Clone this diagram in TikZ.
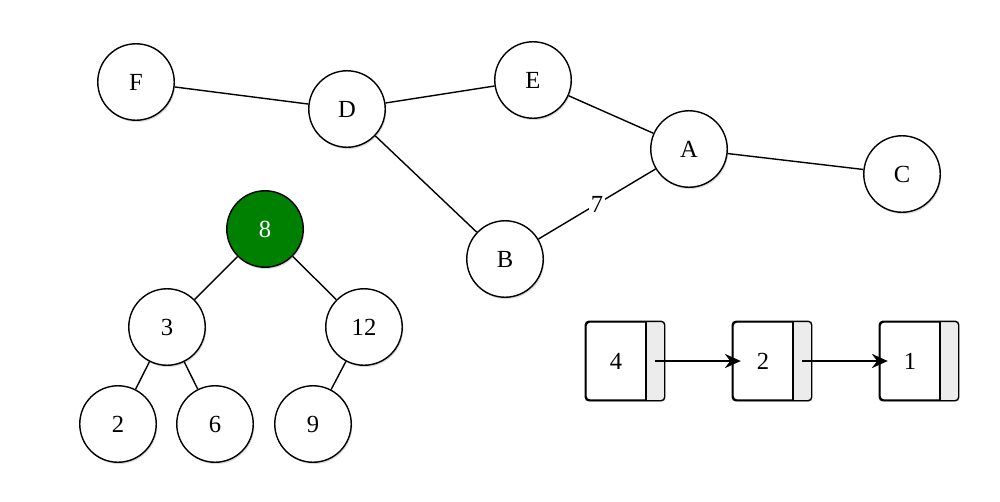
\documentclass[tikz,border=0pt]{standalone}
\usepackage{fontspec}
\setmainfont{Liberation Serif}
\usetikzlibrary{arrows.meta,shadows}
\definecolor{RootGreen}{RGB}{0,128,0}
\definecolor{CellGray}{RGB}{236,236,236}

\tikzset{
  vertex/.style={circle, draw, line width=0.8pt, fill=white, minimum size=1.53cm,
    inner sep=0pt, font=\fontsize{14}{16}\selectfont,
    drop shadow={opacity=0.3, shadow xshift=0.6pt, shadow yshift=-1pt}},
  root/.style={vertex, fill=RootGreen, text=white},
  link/.style={line width=0.8pt},
  cell/.style={rectangle, rounded corners=2pt, draw, line width=0.8pt, fill=white,
    minimum width=1.56cm, minimum height=1.56cm, inner sep=0pt,
    drop shadow={opacity=0.3, shadow xshift=0.6pt, shadow yshift=-1pt}},
  val/.style={inner sep=0pt, font=\fontsize{14}{16}\selectfont},
  nextptr/.style={line width=1.4pt, -{Stealth[length=9pt, width=8pt]}, shorten >=-0.17cm}
}

\begin{document}
\begin{tikzpicture}[x=0.02cm, y=-0.02cm]

  \useasboundingbox (0,0) rectangle (1000,501);

  % --- Graph ---
  \node[vertex] (F) at (136, 82) {F};
  \node[vertex] (D) at (347,109) {D};
  \node[vertex] (E) at (533, 80) {E};
  \node[vertex] (A) at (689,149) {A};
  \node[vertex] (C) at (902,174) {C};
  \node[vertex] (B) at (505,259) {B};

  \draw[link] (F) -- (D);
  \draw[link] (D) -- (E);
  \draw[link] (E) -- (A);
  \draw[link] (A) -- (C);
  \draw[link] (D) -- (B);
  \draw[link] (B) -- node[fill=white, inner sep=1pt, font=\fontsize{14}{16}\selectfont] (w) {7} (A);

  % --- Binary search tree ---
  \node[root]   (t8)  at (265,229) {8};
  \node[vertex] (t3)  at (167,327) {3};
  \node[vertex] (t12) at (364,327) {12};
  \node[vertex] (t2)  at (118,424) {2};
  \node[vertex] (t6)  at (215,424) {6};
  \node[vertex] (t9)  at (313,424) {9};

  \foreach \a/\b in {t8/t3, t8/t12, t3/t2, t3/t6, t12/t9}
    \draw[link] (\a) -- (\b);

  % --- Linked list: 4 -> 2 -> 1 ---
  \foreach \v/\x in {4/586, 2/733, 1/880} {
    \node[cell] (box\v) at (\x+39,361) {};
    \begin{scope}
      \clip[rounded corners=2pt] (box\v.north west) rectangle (box\v.south east);
      \fill[CellGray] (\x+60,322) rectangle (\x+78,400);
    \end{scope}
    \draw[line width=0.8pt, rounded corners=2pt] (box\v.north west) rectangle (box\v.south east);
    \draw[line width=0.8pt] (\x+60,322) -- (\x+60,400);
    \node[val] (v\v) at (\x+30,361) {\v};
    \coordinate (p\v) at (\x+69,361);
  }

  \draw[nextptr] (p4) -- (box2.west);
  \draw[nextptr] (p2) -- (box1.west);

\end{tikzpicture}
\end{document}
